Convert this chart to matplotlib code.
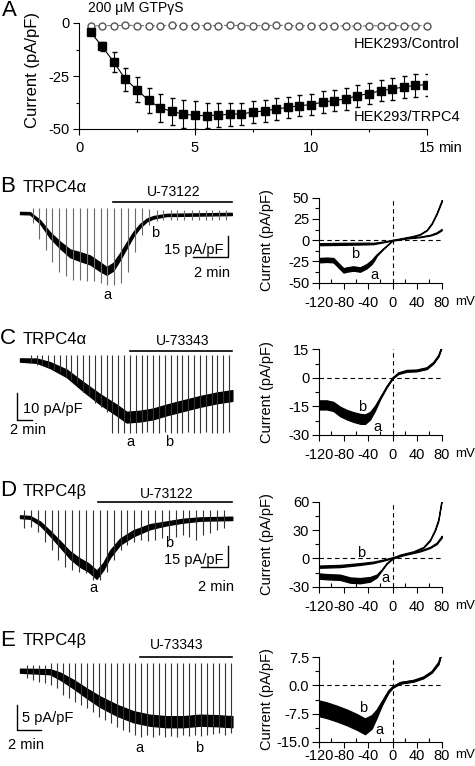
import numpy as np
import matplotlib
matplotlib.use('Agg')
import matplotlib.pyplot as plt

plt.rcParams['font.family'] = ['Liberation Sans', 'DejaVu Sans']
plt.rcParams['axes.unicode_minus'] = False

# ---------------- panel A: time course ----------------
a_time = [0.5, 1.0, 1.5, 2.0, 2.5, 3.0, 3.5, 4.0, 4.5, 5.0, 5.5, 6.0, 6.5, 7.0, 7.5,
          8.0, 8.5, 9.0, 9.5, 10.0, 10.5, 11.0, 11.5, 12.0, 12.5, 13.0, 13.5, 14.0, 14.5, 15.0]
trpc4_mean = [-4.4, -11.0, -18.5, -26.5, -31.5, -36.5, -40.0, -41.7, -43.0, -43.6, -43.7, -43.4,
              -43.1, -42.8, -42.1, -41.4, -40.6, -39.8, -39.0, -38.5, -37.3, -36.6, -35.8, -34.3,
              -33.3, -31.9, -31.1, -30.2, -29.4, -29.1]
trpc4_sem = [1.2, 2.1, 4.6, 5.5, 5.8, 5.9, 6.5, 6.5, 6.7, 6.6, 6.0, 5.5, 5.4, 5.3, 5.2,
             5.1, 5.1, 5.1, 5.0, 4.9, 5.0, 5.1, 5.1, 5.1, 5.1, 5.1, 5.2, 5.3, 5.3, 5.2]
ctrl_mean = [-1.5, -1.2, -1.2, -1.1, -1.2, -1.3, -1.2, -1.1, -1.2, -1.3, -1.2, -1.2, -1.1, -1.2, -1.3,
             -1.2, -1.1, -1.2, -1.3, -1.3, -1.2, -1.2, -1.4, -1.5, -1.3, -1.3, -1.2, -1.3, -1.3, -1.2]
ctrl_sem = [0.6] * 30

# ---------------- whole-cell traces (min, pA/pF) ----------------
b_env_t = [0.0, 0.57, 1.14, 1.71, 2.29, 2.86, 3.43, 4.0, 4.57, 4.95, 5.33, 5.71, 6.1, 6.48, 6.86, 7.24, 7.62, 8.38, 12.1]
b_env_i = [0.0, -0.2, -6.3, -15.9, -23.2, -29.2, -31.6, -34.0, -38.9, -42.0, -38.9, -31.6, -23.2, -15.2, -9.2, -5.1, -3.1, -1.4, -0.7]
b_env_hw = [0.8, 0.8, 1.2, 2.0, 2.4, 2.8, 3.2, 3.2, 3.2, 2.8, 2.8, 2.4, 2.0, 1.6, 1.3, 1.0, 0.9, 0.8, 0.8]
b_ramp_t = [0.72, 1.09, 1.47, 1.85, 2.25, 2.63, 3.05, 3.43, 3.85, 4.25, 4.61, 4.99, 5.39, 5.75, 6.15,
            6.57, 6.99, 7.37, 7.81, 8.19, 8.61, 8.99, 9.39, 9.81, 10.21, 10.61, 10.99, 11.39, 11.79]
b_ramp_hi = [3.4, 3.4, 3.4, 3.4, 3.4, 3.4, 3.4, 3.4, 3.4, 3.4, 3.4, 3.4, 3.4, 3.4, 3.4,
             3.4, 3.4, 3.0, 2.0, 2.0, 2.0, 2.0, 2.0, 2.0, 2.0, 2.0, 2.0, 2.0, 2.0]
b_ramp_lo = [-7.5, -18.6, -26.8, -35.3, -42.5, -46.0, -48.3, -48.3, -49.5, -49.5, -50.7, -51.9, -51.9, -50.7, -42.5,
             -28.0, -16.0, -8.5, -5.6, -5.0, -5.0, -5.0, -5.0, -5.0, -5.0, -5.0, -5.0, -5.0, -5.0]

c_env_t = [0.0, 2.33, 4.2, 6.53, 8.86, 11.2, 13.5, 14.9, 16.8, 18.6, 20.5, 22.8, 25.2, 27.5, 29.7]
c_env_i = [0.0, -0.25, -1.9, -5.0, -10.0, -14.7, -18.7, -21.4, -21.0, -20.2, -18.7, -17.1, -15.5, -14.2, -13.3]
c_env_hw = [0.6, 0.8, 1.1, 1.4, 1.7, 1.9, 2.0, 2.0, 2.0, 2.0, 2.0, 2.0, 2.0, 2.0, 2.0]
c_ramp_t = [1.49, 2.33, 3.12, 3.92, 4.76, 5.59, 6.39, 7.18, 8.02, 8.86, 9.65, 10.49, 11.28, 12.12, 12.91,
            13.75, 14.55, 15.38, 16.18, 17.02, 17.81, 18.65, 19.44, 20.28, 21.07, 21.91, 22.7, 23.54, 24.34,
            25.17, 25.97, 26.81, 27.6, 28.44, 29.28]
c_ramp_hi = [1.9] * 35
c_ramp_lo = [-1.25, -1.9, -1.9, -2.5, -3.7, -4.4, -6.2, -7.5, -8.7, -11.9, -13.1, -16.2, -17.5, -19.4, -27.5,
             -27.5, -27.5, -27.5, -27.5, -27.5, -27.0, -27.5, -27.5, -27.0, -27.5, -27.5, -27.5, -27.0, -27.5,
             -27.5, -27.0, -27.5, -27.5, -27.5, -27.0]

d_env_t = [0.0, 0.75, 1.5, 2.25, 3.0, 3.75, 4.49, 5.12, 5.74, 6.24, 6.74, 7.49, 8.49, 9.74, 11.0, 12.2, 13.5, 15.9]
d_env_i = [0.0, -0.5, -4.8, -12.0, -19.8, -27.8, -33.3, -36.7, -42.0, -36.0, -27.0, -18.1, -12.0, -7.2, -4.8, -2.9, -1.7, -1.2]
d_env_hw = [1.0, 1.0, 1.4, 1.8, 2.2, 2.6, 3.0, 3.0, 3.0, 2.6, 2.6, 2.2, 2.2, 1.8, 1.4, 1.4, 1.2, 1.2]
d_ramp_t = [0.30, 0.80, 1.32, 1.85, 2.37, 2.87, 3.40, 3.92, 4.42, 4.94, 5.47, 5.99, 6.49, 7.02, 7.54,
            8.04, 8.56, 9.09, 9.59, 10.11, 10.64, 11.14, 11.66, 12.18, 12.68, 13.21, 13.73, 14.23, 14.76, 15.28]
d_ramp_hi = [4.9] * 30
d_ramp_lo = [-8.4, -7.2, -10.9, -18.1, -24.2, -31.4, -36.2, -38.6, -39.9, -41.1, -45.9, -45.9, -39.9, -31.4, -24.2,
             -20.5, -18.1, -16.9, -17.4, -16.9, -15.7, -16.9, -14.5, -13.3, -14.5, -16.9, -13.3, -12.1, -9.7, -8.4]

e_env_t = [0.0, 2.5, 3.33, 4.44, 5.56, 6.67, 8.06, 9.44, 10.8, 12.2, 13.6, 15.0, 16.4, 17.7]
e_env_i = [0.0, -0.2, -1.07, -2.66, -4.5, -6.2, -7.9, -9.2, -9.9, -10.2, -10.2, -9.9, -10.0, -10.2]
e_env_hw = [0.4, 0.5, 0.7, 0.85, 0.95, 1.05, 1.1, 1.1, 1.1, 1.1, 1.1, 1.1, 1.1, 1.1]
e_ramp_t = [0.61, 1.11, 1.61, 2.11, 2.61, 3.11, 3.61, 4.11, 4.61, 5.11, 5.61, 6.11, 6.61, 7.11, 7.61, 8.11, 8.61, 9.11,
            9.61, 10.11, 10.61, 11.11, 11.61, 12.11, 12.61, 13.11, 13.61, 14.11, 14.61, 15.11, 15.61, 16.11, 16.61,
            17.11, 17.56]
e_ramp_hi = [1.2, 1.2, 1.2, 1.2] + [1.5] * 31
e_ramp_lo = [-1.5, -1.9, -2.2, -2.5, -2.9, -3.5, -4.9, -5.5, -6.2, -6.9, -7.5, -8.2, -9.2, -9.9, -10.5, -11.2, -11.9,
             -12.2, -12.9, -13.2, -12.9, -13.2, -12.9, -13.2, -13.1, -13.2, -12.9, -13.1, -12.9, -13.1, -12.9, -12.7,
             -12.5, -12.9, -12.5]

# ---------------- I-V curves (mV, pA/pF) ----------------
b_iv_a_mv = [-120, -107.5, -96.6, -91, -85.8, -80, -74.9, -64, -53, -42.3, -34, -28.7, -26, -15, 0, 12, 33.8, 44.7, 55.5, 63.7, 71.8, 80]
b_iv_a = [-23.5, -23.0, -23.5, -27.5, -31.4, -35.5, -34.5, -33.3, -34.5, -30.6, -25.5, -20.4, -17.6, -9.8, 0, 1.6, 4.7, 7.0, 11.8, 19.6, 31.4, 46.3]
b_iv_a_hw = [2.6, 2.6, 2.6, 2.6, 2.6, 2.6, 2.6, 2.6, 2.6, 2.6, 2.4, 1.8, 1, 0.4, 0.4, 0.4, 0.4, 0.4, 0.4, 0.6, 0.8, 1]
b_iv_b_mv = [-120, -80, -40, -31.4, -15, 0, 23, 44.7, 61, 71.8, 80]
b_iv_b = [-4.7, -4.3, -3.9, -3.9, -2.0, 0.0, 2.4, 3.9, 5.9, 8.6, 12.5]
b_iv_b_hw = [1.2, 1.2, 1.0, 0.8, 0.5, 0.4, 0.4, 0.4, 0.5, 0.7, 0.8]

c_iv_mv = [-120, -107.5, -96.6, -85.8, -74.9, -64, -53, -45, -36.8, -28.7, -20.5, -9.8, 0, 9.2, 23, 39, 55.5, 66.4, 74.5, 80]
c_iv_a = [-14.7, -14.7, -15.5, -18.2, -19.9, -21.2, -22.2, -22.4, -20.5, -16.3, -10.9, -4.7, 0, 2.3, 3.5, 3.7, 4.9, 7.8, 11.4, 16.3]
c_iv_b = [-13.7, -13.7, -14.5, -17.0, -18.7, -19.9, -20.8, -21.0, -19.3, -15.5, -10.5, -4.5, 0, 2.6, 3.9, 4.1, 5.3, 8.2, 11.8, 16.7]
c_iv_hw = [1.9, 1.9, 1.9, 1.9, 1.9, 1.9, 1.9, 1.8, 1.4, 0.9, 0.4, 0.3, 0.3, 0.3, 0.3, 0.3, 0.3, 0.3, 0.3, 0.3]

d_iv_a_mv = [-120, -107.5, -85.8, -69, -53, -36.8, -26, -17.9, -9.8, 0, 12, 33.8, 50, 61, 69, 74.5, 80]
d_iv_a = [-18.7, -19.4, -20.0, -23.0, -23.6, -22.2, -18.7, -12.4, -5.3, 0, 3.5, 7.0, 11.6, 19.4, 30.0, 40.6, 61.8]
d_iv_a_hw = [2.8, 2.8, 2.8, 2.8, 2.8, 2.5, 1.5, 0.6, 0.5, 0.5, 0.5, 0.5, 0.5, 0.6, 0.8, 1.0, 1.2]
d_iv_b_mv = [-120, -85.8, -53, -31.4, -15, 0, 23, 44.7, 61, 71.8, 80]
d_iv_b = [-8.8, -8.1, -6.0, -4.2, -1.8, 0.7, 4.6, 7.8, 11.6, 15.9, 22.9]
d_iv_b_hw = [1.2, 1.2, 1.0, 0.8, 0.6, 0.5, 0.5, 0.5, 0.6, 0.8, 1.0]

e_iv_mv = [-120, -107.5, -91, -74.9, -58.6, -45, -34, -26, -17.9, -7, 0, 12, 33.8, 50, 63.7, 74.5, 80]
e_iv_a = [-6.6, -7.1, -8.0, -9.0, -10.2, -11.4, -10.1, -7.7, -4.9, -1.7, -0.4, 0.7, 1.2, 2.1, 3.6, 5.9, 9.0]
e_iv_b = [-5.6, -6.1, -7.0, -8.0, -9.2, -10.4, -9.3, -7.3, -4.7, -1.6, -0.4, 0.7, 1.3, 2.2, 3.7, 6.0, 9.1]
e_iv_hw = [1.6, 1.6, 1.6, 1.6, 1.6, 1.6, 1.4, 0.9, 0.5, 0.3, 0.2, 0.2, 0.2, 0.2, 0.2, 0.3, 0.3]

iv_xticks = [-120, -80, -40, 0, 40, 80]
iv_xminor = [-100, -60, -20, 20, 60]

W, H = 475, 766
fig = plt.figure(figsize=(W / 100, H / 100), dpi=100)
FS = 10.5


def px_axes(x0, y0, x1, y1):
    return fig.add_axes([x0 / W, 1 - y1 / H, (x1 - x0) / W, (y1 - y0) / H])


def px_text(x, y, s, **kw):
    kw.setdefault('fontsize', FS)
    kw.setdefault('va', 'center')
    fig.text(x / W, 1 - y / H, s, **kw)


# ---- A ----
axA = px_axes(79, 23, 427, 129)
axA.errorbar(a_time, ctrl_mean, yerr=ctrl_sem, fmt='o', ls=(0, (3, 2)), color='#777777', lw=0.8,
             mfc='white', mec='#555555', ms=5, capsize=1.8, elinewidth=0.7, clip_on=False, zorder=3)
axA.errorbar(a_time, trpc4_mean, yerr=trpc4_sem, fmt='s-', color='black', lw=0.8, ms=5.5,
             capsize=1.8, elinewidth=0.8, zorder=4)
axA.set_xlim(0, 15)
axA.set_ylim(-50, 0)
for s in ['top', 'right']:
    axA.spines[s].set_visible(False)
axA.set_xticks([0, 5, 10, 15])
axA.set_xticklabels(['0', '5', '10', '15'])
axA.set_xticks([2.5, 7.5, 12.5], minor=True)
axA.set_yticks([0, -25, -50])
axA.set_yticklabels(['0', '-25', '-50'])
axA.set_yticks([-12.5, -37.5], minor=True)
axA.tick_params(which='major', direction='out', length=4.3, width=0.8, labelsize=FS, pad=2.5)
axA.tick_params(which='minor', direction='out', length=2.5, width=0.8)
axA.tick_params(axis='x', pad=4)
axA.annotate('min', xy=(1, 0), xycoords='axes fraction', xytext=(8, -8.3), textcoords='offset points',
             ha='left', va='top', fontsize=FS)

px_text(2, 10, 'A', fontsize=16)
px_text(88, 8, '200 \u03bcM GTP\u03b3S', fontsize=10)
px_text(460, 44, 'HEK293/Control', ha='right')
px_text(460, 117, 'HEK293/TRPC4', ha='right')
px_text(32, 70, 'Current (pA/pF)', rotation=90, ha='center', fontsize=12)


# ---- traces ----
def trace_axes(top, bottom, x_zero, y_zero, px_min, px_pa):
    ax = px_axes(0, top, 240, bottom)
    ax.set_xlim(-x_zero / px_min, (240 - x_zero) / px_min)
    ax.set_ylim((y_zero - bottom) / px_pa, (y_zero - top) / px_pa)
    ax.axis('off')
    return ax


def draw_trace(ax, env_t, env_i, env_hw, ramp_t, ramp_hi, ramp_lo, spike_col):
    ax.vlines(ramp_t, ramp_lo, ramp_hi, color=spike_col, lw=0.8)
    mid = np.array(env_i)
    hw = np.array(env_hw)
    ax.fill_between(env_t, mid - hw, mid + hw, color='black', lw=1.0)


def scale_bar(ax, x, y, dx, dy, corner_left):
    if corner_left:
        ax.plot([x, x, x + dx], [y + dy, y, y], color='black', lw=1.0, clip_on=False)
    else:
        ax.plot([x - dx, x, x], [y, y, y + dy], color='black', lw=1.0, clip_on=False)


# B
axB = trace_axes(195, 302, 20, 213, 17.5, 1.38)
draw_trace(axB, b_env_t, b_env_i, b_env_hw, b_ramp_t, b_ramp_hi, b_ramp_lo, '#6a6a6a')
axB.plot([5.31, 12.12], [8.2, 8.2], color='black', lw=1.2, clip_on=False)
scale_bar(axB, 11.9, -31.7, 2.0, 15, False)
axB.text(11.6, -26.8, '15 pA/pF', ha='right', va='center', fontsize=FS)
axB.text(10.97, -43.5, '2 min', ha='center', va='center', fontsize=FS)
axB.text(4.97, -59.4, 'a', ha='center', va='center', fontsize=FS)
axB.text(7.71, -14.5, 'b', ha='center', va='center', fontsize=FS)
px_text(0, 187, 'B', fontsize=16)
px_text(23, 188, 'TRPC4\u03b1', fontsize=12)
px_text(174, 191.5, 'U-73122', ha='center', fontsize=10)

# C
axC = trace_axes(348, 460, 20, 360, 7.15, 2.67)
draw_trace(axC, c_env_t, c_env_i, c_env_hw, c_ramp_t, c_ramp_hi, c_ramp_lo, '#333333')
axC.plot([15.4, 29.65], [3.4, 3.4], color='black', lw=1.2, clip_on=False)
scale_bar(axC, -0.38, -22.5, 2.0, 10, True)
axC.text(0.42, -18.4, '10 pA/pF', ha='left', va='center', fontsize=FS)
axC.text(-1.4, -26.2, '2 min', ha='left', va='center', fontsize=FS)
axC.text(15.4, -30.7, 'a', ha='center', va='center', fontsize=FS)
axC.text(20.9, -30.7, 'b', ha='center', va='center', fontsize=FS)
px_text(0, 339, 'C', fontsize=16)
px_text(23, 340, 'TRPC4\u03b1', fontsize=12)
px_text(183, 341, 'U-73343', ha='center', fontsize=10)

# D
axD = trace_axes(500, 602, 20, 516.7, 13.35, 1.38)
draw_trace(axD, d_env_t, d_env_i, d_env_hw, d_ramp_t, d_ramp_hi, d_ramp_lo, '#333333')
axD.plot([5.82, 15.88], [10.4, 10.4], color='black', lw=1.2, clip_on=False)
scale_bar(axD, 15.56, -36.2, 2.0, 15, False)
axD.text(15.23, -31.4, '15 pA/pF', ha='right', va='center', fontsize=FS)
axD.text(14.66, -50.7, '2 min', ha='center', va='center', fontsize=FS)
axD.text(5.47, -51.7, 'a', ha='center', va='center', fontsize=FS)
axD.text(11.16, -19.1, 'b', ha='center', va='center', fontsize=FS)
px_text(0, 490.5, 'D', fontsize=16)
px_text(23, 491, 'TRPC4\u03b2', fontsize=12)
px_text(167, 494, 'U-73122', ha='center', fontsize=10)

# E
axE = trace_axes(650, 766, 20, 670.7, 12.0, 5.0)
draw_trace(axE, e_env_t, e_env_i, e_env_hw, e_ramp_t, e_ramp_hi, e_ramp_lo, '#333333')
axE.plot([10.0, 17.67], [2.8, 2.8], color='black', lw=1.2, clip_on=False)
scale_bar(axE, -0.275, -11.86, 2.0, 5, True)
axE.text(0.17, -9.46, '5 pA/pF', ha='left', va='center', fontsize=FS)
axE.text(-1.0, -14.9, '2 min', ha='left', va='center', fontsize=FS)
axE.text(9.92, -15.5, 'a', ha='center', va='center', fontsize=FS)
axE.text(14.9, -15.5, 'b', ha='center', va='center', fontsize=FS)
px_text(0, 640.5, 'E', fontsize=16)
px_text(23, 641, 'TRPC4\u03b2', fontsize=12)
px_text(177, 645, 'U-73343', ha='center', fontsize=10)


# ---- I-V panels ----
def iv_axes(top, bottom, ylim, yt, yt_labels, ymin_t, xpad=5):
    ax = px_axes(319, top, 441.7, bottom)
    ax.set_xlim(-120, 80)
    ax.set_ylim(*ylim)
    for s in ['top', 'right']:
        ax.spines[s].set_visible(False)
    ax.set_xticks(iv_xticks)
    ax.set_xticklabels([str(v) for v in iv_xticks])
    ax.set_xticks(iv_xminor, minor=True)
    ax.set_yticks(yt)
    ax.set_yticklabels(yt_labels)
    ax.set_yticks(ymin_t, minor=True)
    ax.tick_params(axis='x', which='major', direction='out', length=4.3, width=0.8, pad=xpad, labelsize=FS)
    ax.tick_params(axis='x', which='minor', direction='in', length=3, width=0.8)
    ax.tick_params(axis='y', which='major', direction='out', length=5, width=0.8, pad=2, labelsize=FS)
    ax.tick_params(axis='y', which='minor', direction='out', length=3, width=0.8)
    ax.axhline(0, ls=(0, (4, 3)), color='black', lw=0.8)
    ax.axvline(0, ls=(0, (4, 3)), color='black', lw=0.8)
    ax.annotate('mV', xy=(1, 0), xycoords='axes fraction', xytext=(9.5, -4.3 - xpad), textcoords='offset points',
                ha='left', va='top', fontsize=9.5)
    px_text(267, (top + bottom) / 2, 'Current (pA/pF)', rotation=90, ha='center')
    return ax


def iv_curve(ax, mv, cur, hw):
    c = np.array(cur)
    h = np.array(hw)
    ax.fill_between(mv, c - h, c + h, color='black', lw=0.9)


ivB = iv_axes(197.7, 282.7, (-50, 50), [50, 25, 0, -25, -50], ['50', '25', '0', '-25', '-50'],
              [37.5, 12.5, -12.5, -37.5])
iv_curve(ivB, b_iv_a_mv, b_iv_a, b_iv_a_hw)
iv_curve(ivB, b_iv_b_mv, b_iv_b, b_iv_b_hw)
ivB.text(-61, -15.7, 'b', ha='center', va='center', fontsize=FS)
ivB.text(-30, -41, 'a', ha='center', va='center', fontsize=FS)

ivC = iv_axes(349.3, 435, (-30, 15), [15, 0, -15, -30], ['15', '0', '-15', '-30'], [7.5, -7.5, -22.5])
iv_curve(ivC, c_iv_mv, c_iv_a, c_iv_hw)
iv_curve(ivC, c_iv_mv, c_iv_b, c_iv_hw)
ivC.text(-50.4, -15.1, 'b', ha='center', va='center', fontsize=FS)
ivC.text(-25, -25.6, 'a', ha='center', va='center', fontsize=FS)

ivD = iv_axes(501.7, 586.7, (-30, 60), [60, 30, 0, -30], ['60', '30', '0', '-30'], [45, 15, -15])
iv_curve(ivD, d_iv_a_mv, d_iv_a, d_iv_a_hw)
iv_curve(ivD, d_iv_b_mv, d_iv_b, d_iv_b_hw)
ivD.text(-51.5, 5.3, 'b', ha='center', va='center', fontsize=FS)
ivD.text(-12.4, -21, 'a', ha='center', va='center', fontsize=FS)

ivE = iv_axes(657.3, 741.7, (-15, 7.5), [7.5, 0, -7.5, -15], ['7.5', '0.0', '-7.5', '-15.0'],
              [3.75, -3.75, -11.25], xpad=1.2)
iv_curve(ivE, e_iv_mv, e_iv_a, e_iv_hw)
iv_curve(ivE, e_iv_mv, e_iv_b, e_iv_hw)
ivE.text(-48.8, -6.1, 'b', ha='center', va='center', fontsize=FS)
ivE.text(-21.6, -11.9, 'a', ha='center', va='center', fontsize=FS)

fig.savefig('out.png', dpi=100)
